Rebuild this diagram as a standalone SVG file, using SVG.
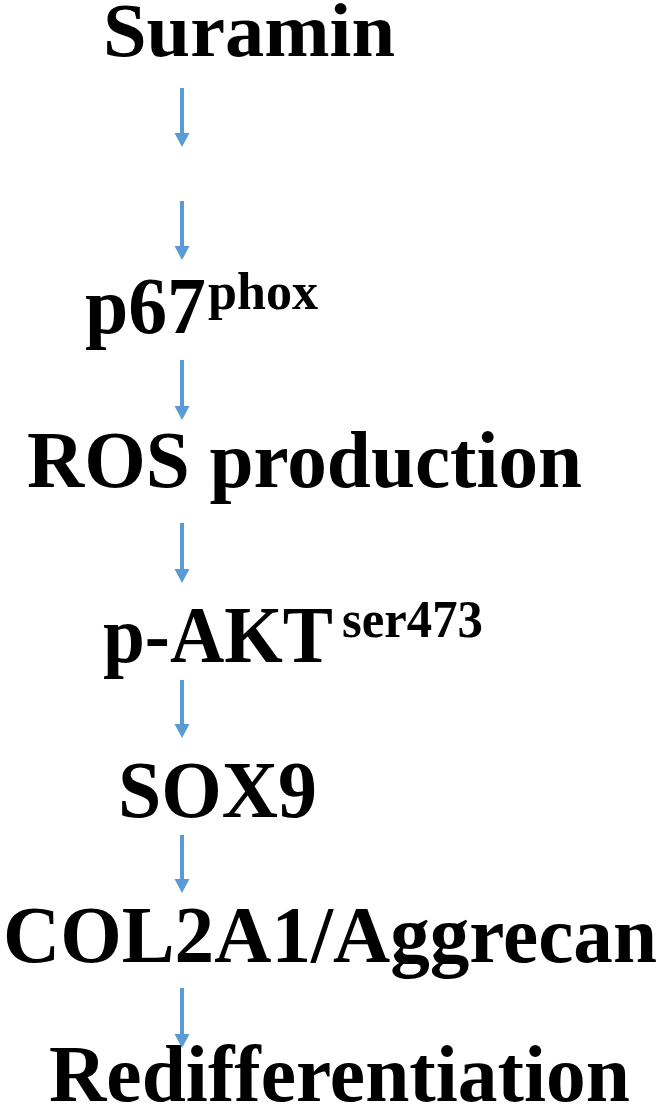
<svg xmlns="http://www.w3.org/2000/svg" width="666" height="1109" viewBox="0 0 666 1109">
  <style>
    .t { font-family: "Liberation Serif", "Times New Roman", serif; font-weight: bold; font-size: 81px; fill: #000; }
    .t0 { font-size: 77px; }
    .s { font-family: "Liberation Serif", "Times New Roman", serif; font-weight: bold; font-size: 53px; fill: #000; }
    .a { stroke: #5B9BD5; stroke-width: 4; fill: none; }
    .h { fill: #5B9BD5; }
  </style>
  <rect width="666" height="1109" fill="#fff"/>
  <g id="n-suramin"><text class="t t0" x="103" y="56" textLength="292" lengthAdjust="spacingAndGlyphs">Suramin</text></g>
  <g id="n-p67"><text class="t" x="85" y="333" textLength="121" lengthAdjust="spacingAndGlyphs">p67</text><text class="s" x="208" y="309" textLength="110" lengthAdjust="spacingAndGlyphs">phox</text></g>
  <g id="n-ros"><text class="t" x="27" y="487" textLength="555" lengthAdjust="spacingAndGlyphs">ROS production</text></g>
  <g id="n-akt"><text class="t" x="103" y="662" textLength="230" lengthAdjust="spacingAndGlyphs">p-AKT</text><text class="s" x="342" y="637" textLength="141" lengthAdjust="spacingAndGlyphs">ser473</text></g>
  <g id="n-sox9"><text class="t" x="118" y="817" textLength="199" lengthAdjust="spacingAndGlyphs">SOX9</text></g>
  <g id="n-col"><text class="t" x="3" y="962" textLength="654" lengthAdjust="spacingAndGlyphs">COL2A1/Aggrecan</text></g>
  <g id="n-redif"><text class="t" x="49" y="1101" textLength="581" lengthAdjust="spacingAndGlyphs">Redifferentiation</text></g>
  <g id="connectors">
    <line class="a" x1="182" y1="88" x2="182" y2="134"/><polygon class="h" points="174.5,133 189.5,133 182,147"/>
    <line class="a" x1="182" y1="201" x2="182" y2="247"/><polygon class="h" points="174.5,246 189.5,246 182,260"/>
    <line class="a" x1="182" y1="360" x2="182" y2="407"/><polygon class="h" points="174.5,406 189.5,406 182,420"/>
    <line class="a" x1="182" y1="523" x2="182" y2="570"/><polygon class="h" points="174.5,569 189.5,569 182,583"/>
    <line class="a" x1="182" y1="680" x2="182" y2="725"/><polygon class="h" points="174.5,724 189.5,724 182,738"/>
    <line class="a" x1="182" y1="835" x2="182" y2="880"/><polygon class="h" points="174.5,879 189.5,879 182,893"/>
    <line class="a" x1="182" y1="988" x2="182" y2="1035"/><polygon class="h" points="174.5,1034 189.5,1034 182,1048"/>
  </g>
</svg>
